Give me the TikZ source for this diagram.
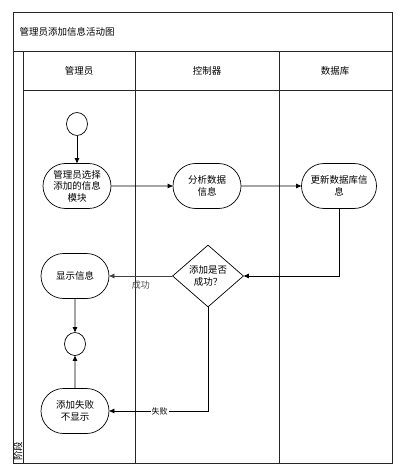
\documentclass[tikz,border=0pt]{standalone}
\usepackage{fontspec}
\newfontfamily\cjk{Noto Sans CJK SC}
\usetikzlibrary{arrows.meta,shapes.geometric,shapes.misc}
\begin{document}
\begin{tikzpicture}[x=1pt,y=-1pt,
  every node/.style={font=\cjk\fontsize{9.5}{11.5}\selectfont},
  frame/.style={draw=black!85, line width=0.9pt},
  act/.style={draw, line width=0.7pt, rounded rectangle, minimum width=70pt, minimum height=45pt, inner sep=1pt, align=center},
  circ/.style={draw, line width=0.7pt, ellipse, minimum width=21pt, minimum height=23pt, inner sep=0pt},
  dec/.style={draw, line width=0.7pt, diamond, minimum width=71pt, minimum height=62pt, inner sep=0pt, align=center, aspect=1.15},
  flow/.style={line width=0.7pt, -{Triangle[length=5pt,width=4.5pt]}},
  lbl/.style={fill=white, inner sep=1pt}]
\useasboundingbox (0,0) rectangle (400,470);
% frame
\draw[frame] (13,12) rectangle (392,463);
\draw[frame] (13,51) -- (392,51);
\draw[frame] (23,51) -- (23,463);
\draw[frame] (23,90) -- (392,90);
\draw[frame] (135,51) -- (135,463);
\draw[frame] (279,51) -- (279,463);
\node[anchor=west] (title) at (16,32) {管理员添加信息活动图};
\node (h1) at (79,71) {管理员};
\node (h2) at (207,71) {控制器};
\node (h3) at (335,71) {数据库};
\node[rotate=90, anchor=west, inner sep=0pt] (phase) at (18,461) {阶段};
% nodes
\node[circ] (start) at (77,124) {};
\node[act] (a1) at (77,186) {管理员选择\\添加的信息\\模块};
\node[act] (a2) at (207,186) {分析数据\\信息};
\node[act, minimum width=77pt] (a3) at (339,186) {更新数据库信\\息};
\node[dec] (d) at (208,276) {添加是否\\成功？};
\node[act] (show) at (75,276) {显示信息};
\node[circ] (end) at (75,344) {};
\node[act] (fail) at (75,411) {添加失败\\不显示};
% connectors
\draw[flow] (start) -- (a1);
\draw[flow] (a1) -- (a2);
\draw[flow] (a2) -- (a3);
\draw[flow] (a3.south) |- (d.east);
\draw[flow, draw=black!75] (d.west) -- node[pos=0.5, below=1pt, text=black!70, font=\cjk\fontsize{9}{10}\selectfont] (ok) {成功} (show.east);
\draw[flow] (show) -- (end);
\draw[flow] (fail) -- (end);
\draw[flow] (d.south) |- node[pos=0.745, lbl, font=\cjk\fontsize{8}{9}\selectfont] (no) {失败} (fail.east);
\end{tikzpicture}
\end{document}
